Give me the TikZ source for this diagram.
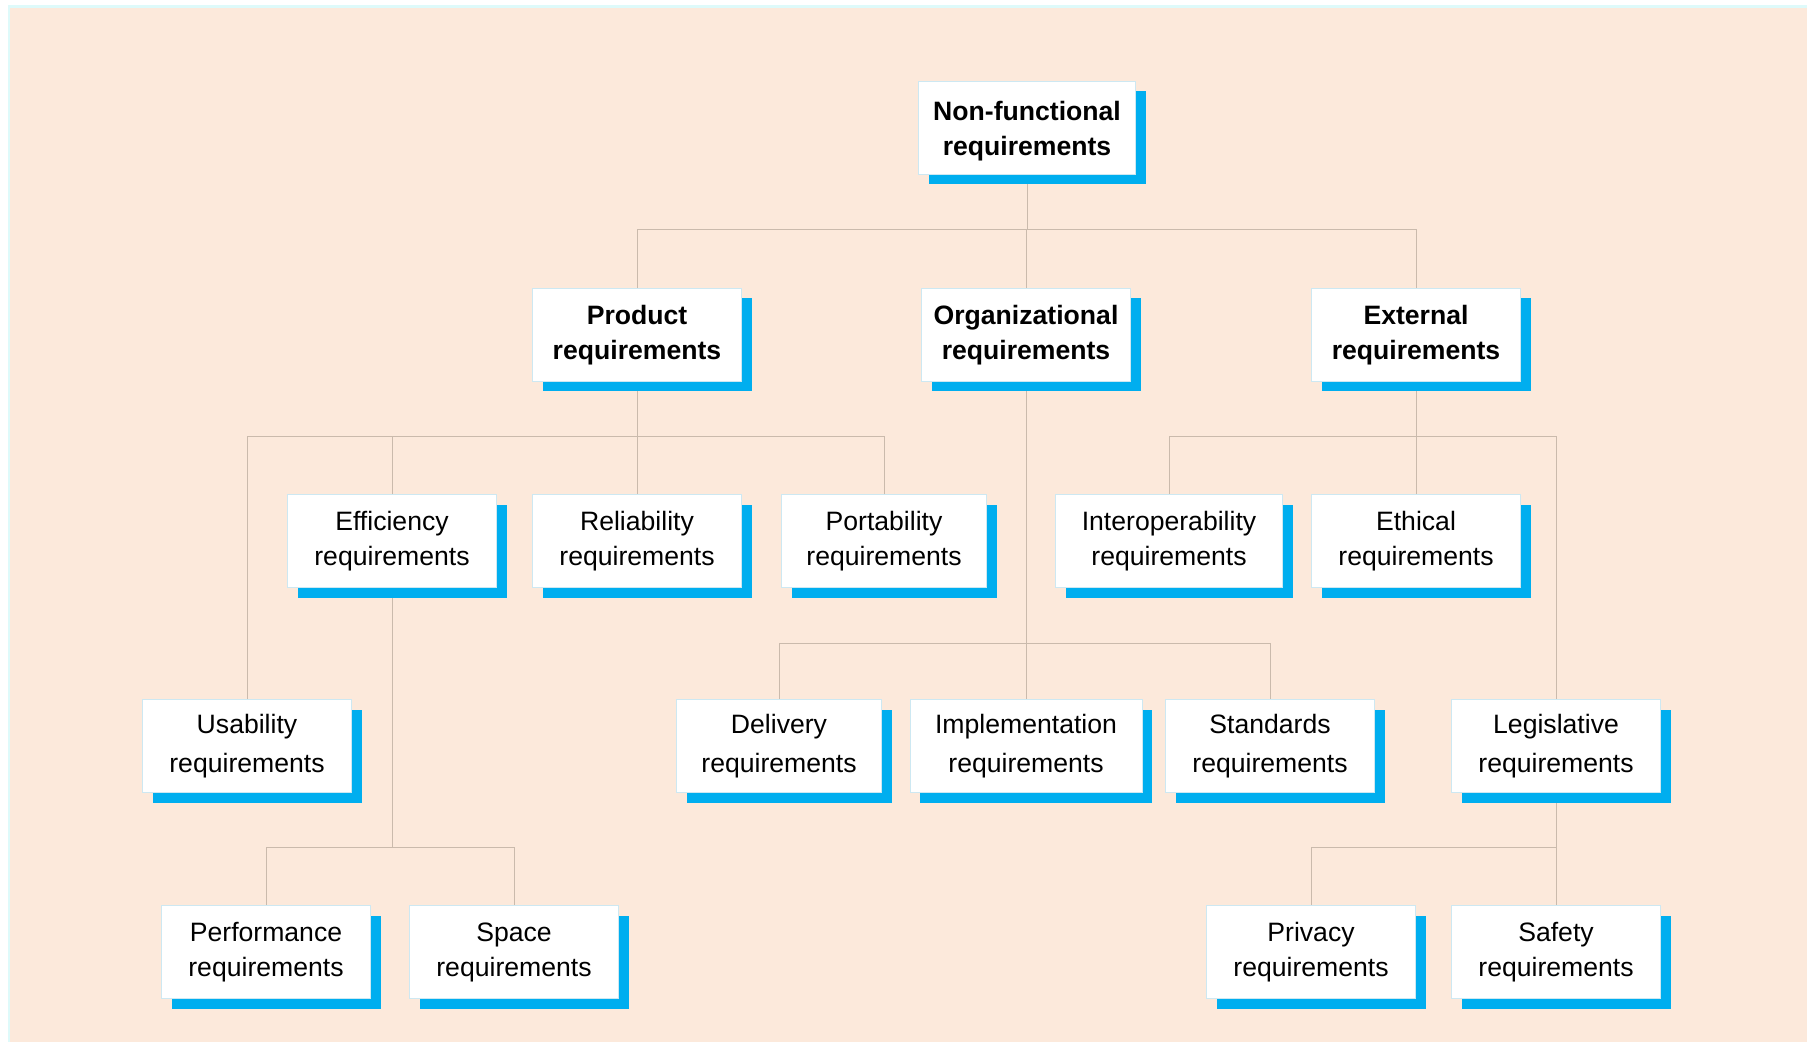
\documentclass[tikz,border=0pt]{standalone}
\usepackage{fontspec}
\setmainfont{Liberation Sans}
\usepackage{xcolor}
\definecolor{frame-light}{RGB}{222,250,250}
\definecolor{page-base}{RGB}{252,233,219}
\definecolor{shadow-blue}{RGB}{0,174,239}
\definecolor{box-edge}{RGB}{205,232,242}
\definecolor{link-tan}{RGB}{202,186,172}
\usetikzlibrary{positioning,shadows,backgrounds}

\begin{document}
\begin{tikzpicture}[
  x=0.5pt, y=-0.5pt,
  req/.style={
    draw=box-edge, line width=0.5pt, fill=white,
    minimum width=104.5pt, minimum height=46.5pt,
    inner sep=2pt, align=center, text=black,
    font=\fontsize{13.3}{17.5}\selectfont,
    drop shadow={shadow xshift=5pt, shadow yshift=-5pt, fill=shadow-blue, opacity=1}
  },
  reqwide/.style={req, font=\fontsize{13.3}{19.5}\selectfont},
  reqhead/.style={req, font=\fontsize{13.3}{17.5}\selectfont\bfseries},
  link/.style={draw=link-tan, line width=0.5pt}
]
\useasboundingbox (0,0) rectangle (1807,1042);

% Top level
\node[reqhead, minimum width=108.5pt] (nfr) at (1027,128) {\rule{0pt}{13pt}Non-functional\\requirements};

% Second level
\node[reqhead] (prod) at (637,335) {Product\\requirements};
\node[reqhead] (org)  at (1026,335) {Organizational\\requirements};
\node[reqhead] (ext)  at (1416,335) {External\\requirements};

% Third level
\node[req] (effi)  at (392,541) {Efficiency\\requirements};
\node[req] (reli)  at (637,541) {Reliability\\requirements};
\node[req, minimum width=102.5pt] (port)  at (884,541) {Portability\\requirements};
\node[req, minimum width=113.5pt] (inter) at (1169,541) {Interoperability\\requirements};
\node[req] (ethi)  at (1416,541) {Ethical\\requirements};

% Fourth level
\node[reqwide] (usab) at (247,746) {Usability\\requirements};
\node[reqwide, minimum width=102.5pt] (deli) at (779,746) {Delivery\\requirements};
\node[reqwide, minimum width=116pt] (impl) at (1026,746) {Implementation\\requirements};
\node[reqwide] (stan) at (1270,746) {Standards\\requirements};
\node[reqwide] (legi) at (1556,746) {Legislative\\requirements};

% Fifth level
\node[req] (perf) at (266,952) {Performance\\requirements};
\node[req] (spac) at (514,952) {Space\\requirements};
\node[req] (priv) at (1311,952) {Privacy\\requirements};
\node[req] (safe) at (1556,952) {Safety\\requirements};

% Bus heights
\coordinate (bus1) at (0,230);
\coordinate (bus2) at (0,437);
\coordinate (bus3) at (0,643);
\coordinate (bus4) at (0,847);

\begin{scope}[on background layer]
  % Page
  \fill[frame-light] (8,5) rectangle (1807,1042);
  \fill[page-base] (10,8) rectangle (1807,1042);

  % Connectors
  \draw[link] (nfr) -- (nfr |- bus1) -| (prod);
  \draw[link] (nfr) -- (nfr |- bus1) -| (org);
  \draw[link] (nfr) -- (nfr |- bus1) -| (ext);

  \draw[link] (prod) -- (prod |- bus2) -| (usab);
  \draw[link] (prod) -- (prod |- bus2) -| (effi);
  \draw[link] (prod) -- (prod |- bus2) -| (reli);
  \draw[link] (prod) -- (prod |- bus2) -| (port);

  \draw[link] (ext) -- (ext |- bus2) -| (inter);
  \draw[link] (ext) -- (ext |- bus2) -| (ethi);
  \draw[link] (ext) -- (ext |- bus2) -| (legi);

  \draw[link] (org) -- (org |- bus3) -| (deli);
  \draw[link] (org) -- (org |- bus3) -| (impl);
  \draw[link] (org) -- (org |- bus3) -| (stan);

  \draw[link] (effi) -- (effi |- bus4) -| (perf);
  \draw[link] (effi) -- (effi |- bus4) -| (spac);

  \draw[link] (legi) -- (legi |- bus4) -| (priv);
  \draw[link] (legi) -- (legi |- bus4) -| (safe);
\end{scope}

\end{tikzpicture}
\end{document}
